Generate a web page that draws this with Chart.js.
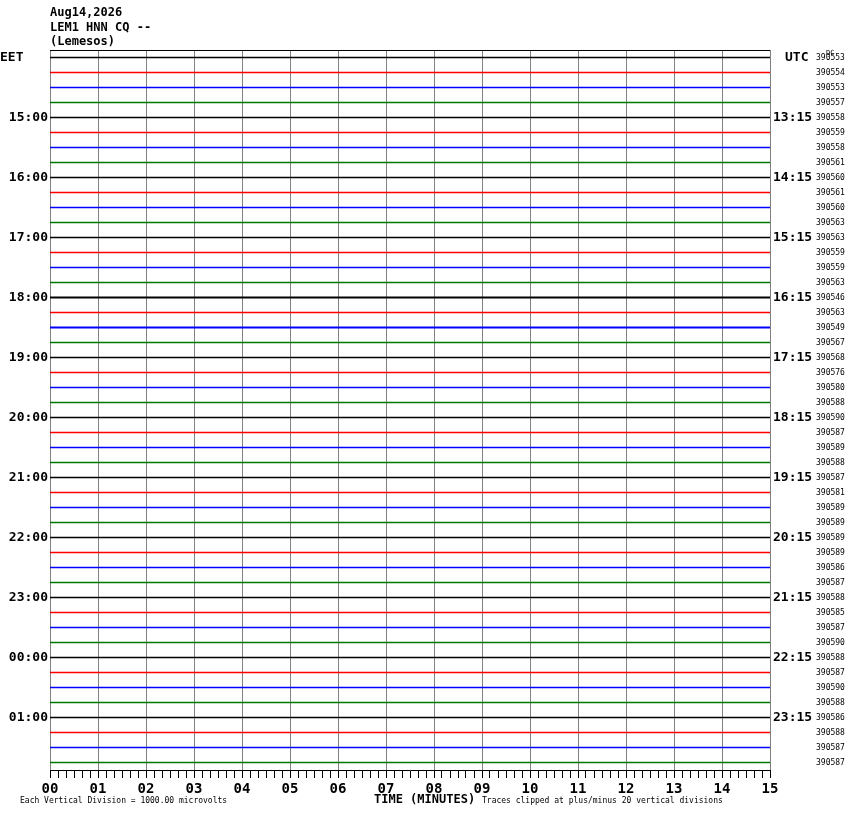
<!DOCTYPE html>
<html>
<head>
<meta charset="utf-8">
<script src="https://cdn.jsdelivr.net/npm/chart.js@4.4.1/dist/chart.umd.min.js"></script>
<style>
  body { margin: 0; background: #fff; }
  canvas { display: block; }
</style>
</head>
<body>
<canvas id="heli" width="850" height="814"></canvas>
<script>
// etiquetas del eje de tiempo (minutos)
const minuteLabels = ['00','01','02','03','04','05','06','07','08','09','10','11','12','13','14','15'];
// horas locales (izquierda) y UTC (derecha), una cada 4 trazas
const eetHours = ['15:00','16:00','17:00','18:00','19:00','20:00','21:00','22:00','23:00','00:00','01:00'];
const utcHours = ['13:15','14:15','15:15','16:15','17:15','18:15','19:15','20:15','21:15','22:15','23:15'];
// valor DC de cada traza de 15 minutos
const dcValues = [
  390553, 390554, 390553, 390557, 390558, 390559, 390558, 390561,
  390560, 390561, 390560, 390563, 390563, 390559, 390559, 390563,
  390546, 390563, 390549, 390567, 390568, 390576, 390580, 390588,
  390590, 390587, 390589, 390588, 390587, 390581, 390589, 390589,
  390589, 390589, 390586, 390587, 390588, 390585, 390587, 390590,
  390588, 390587, 390590, 390588, 390586, 390588, 390587, 390587
];
// cada traza va de 0 a 15 minutos, sin desviación visible
const traceSpan = [0, 15];
const traceDeviation = [0, 0];
// trazas con más ruido (se ven más gruesas)
const noisyRows = [16, 18];

const traceColors = ['#000000', '#ff0000', '#0000ff', '#007800'];
const MONO = '"DejaVu Sans Mono", monospace';

const datasets = dcValues.map((dc, i) => ({
  label: 'trace ' + i,
  data: traceSpan.map((m, k) => ({ x: m, y: i + 0.5 + traceDeviation[k] })),
  borderColor: traceColors[i % 4],
  borderWidth: noisyRows.includes(i) ? 2 : 1.5,
  pointRadius: 0,
  tension: 0
}));

const rowTicks = scale => {
  scale.ticks = dcValues.map((_, i) => ({ value: i + 0.5 }));
};

const ySide = (extra) => Object.assign({
  type: 'linear',
  min: 0,
  max: dcValues.length,
  reverse: true,
  afterBuildTicks: rowTicks,
  grid: { display: false, drawTicks: false },
  border: { display: false }
}, extra);

// textos fijos: título, cabeceras y pie
const textPlugin = {
  id: 'heliText',
  afterDraw(chart) {
    const { ctx, chartArea } = chart;
    ctx.save();
    // borde superior
    ctx.strokeStyle = '#000';
    ctx.lineWidth = 1;
    ctx.beginPath();
    ctx.moveTo(chartArea.left, chartArea.top + 0.5);
    ctx.lineTo(chartArea.right, chartArea.top + 0.5);
    ctx.stroke();

    ctx.fillStyle = '#000';
    ctx.textBaseline = 'alphabetic';
    ctx.textAlign = 'left';
    ctx.font = 'bold 12px ' + MONO;
    ctx.fillText('Aug14,2026', 50, 16);
    ctx.fillText('LEM1 HNN CQ --', 50, 31);
    ctx.fillText('(Lemesos)', 50, 45);

    ctx.font = 'bold 13px ' + MONO;
    ctx.fillText('EET', 0, 61);
    ctx.fillText('UTC', 785, 61);

    ctx.font = '7px ' + MONO;
    ctx.fillText('DC', 826, 55);

    ctx.font = 'bold 12px ' + MONO;
    ctx.fillText('TIME (MINUTES)', 374, 803);

    ctx.font = '8px ' + MONO;
    ctx.fillText('Each Vertical Division = 1000.00 microvolts', 20, 803);
    ctx.fillText('Traces clipped at plus/minus 20 vertical divisions', 482, 803);
    ctx.restore();
  }
};

new Chart(document.getElementById('heli'), {
  type: 'line',
  data: { datasets },
  options: {
    responsive: false,
    animation: false,
    devicePixelRatio: 1,
    layout: { padding: { top: 50, left: 0, right: 0, bottom: 0 } },
    plugins: { legend: { display: false }, tooltip: { enabled: false } },
    scales: {
      x: {
        type: 'linear',
        min: 0,
        max: 15,
        afterBuildTicks: scale => {
          const t = [];
          for (let k = 0; k <= 90; k++) t.push({ value: k / 6 });
          scale.ticks = t;
        },
        afterFit: scale => { scale.height = 44; },
        ticks: {
          autoSkip: false,
          maxRotation: 0,
          padding: 3,
          color: '#000',
          font: { family: MONO, size: 14, weight: 'bold' },
          callback: v => {
            const r = Math.round(v);
            return Math.abs(v - r) < 1e-6 ? minuteLabels[r] : '';
          }
        },
        grid: {
          color: c => (c.tick && Math.abs(c.tick.value - Math.round(c.tick.value)) < 1e-6) ? '#808080' : 'rgba(0,0,0,0)',
          lineWidth: 1,
          drawTicks: true,
          tickLength: 8,
          tickColor: '#000',
          tickWidth: 1
        },
        border: { display: true, color: '#000', width: 1 }
      },
      y: ySide({
        position: 'left',
        afterFit: scale => { scale.width = 50; },
        ticks: {
          autoSkip: false,
          padding: 2,
          color: '#000',
          font: { family: MONO, size: 13, weight: 'bold' },
          callback: (v, i) => (i % 4 === 0 && i > 0) ? eetHours[i / 4 - 1] : ''
        }
      }),
      yUtc: ySide({
        position: 'right',
        weight: 1,
        afterFit: scale => { scale.width = 45; },
        ticks: {
          autoSkip: false,
          padding: 3,
          color: '#000',
          font: { family: MONO, size: 13, weight: 'bold' },
          callback: (v, i) => (i % 4 === 0 && i > 0) ? utcHours[i / 4 - 1] : ''
        }
      }),
      yDc: ySide({
        position: 'right',
        weight: 2,
        afterFit: scale => { scale.width = 35; },
        ticks: {
          autoSkip: false,
          padding: 1,
          color: '#000',
          font: { family: MONO, size: 8 },
          callback: (v, i) => String(dcValues[i])
        }
      })
    }
  },
  plugins: [textPlugin]
});
</script>
</body>
</html>
